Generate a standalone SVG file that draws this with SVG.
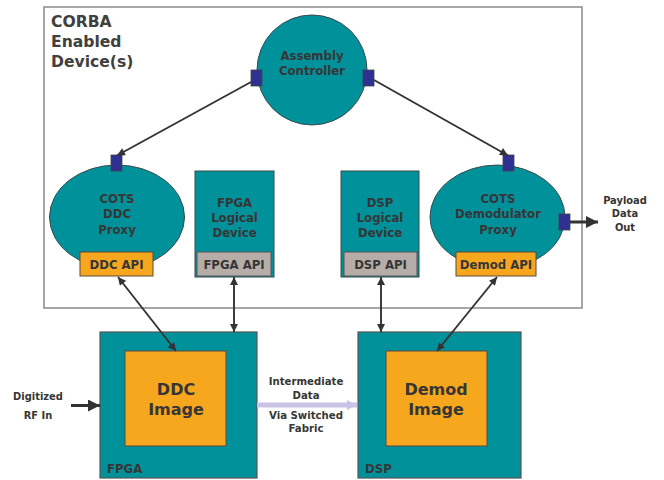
<svg xmlns="http://www.w3.org/2000/svg" width="664" height="480" viewBox="0 0 664 480">
  <defs>
    <style>
      text { font-family: "DejaVu Sans Condensed", "DejaVu Sans", Verdana, sans-serif; font-weight: bold; fill: #363636; text-anchor: middle; }
      .wide { font-family: "DejaVu Sans", Verdana, sans-serif; }
      .teal { fill: #00919b; stroke: #3a4a4c; stroke-width: 1; }
      .orange { fill: #f7a71e; stroke: #5a4a3a; stroke-width: 1; }
      .api-gray { fill: #b6ada8; stroke: #555; stroke-width: 1; }
      .port { fill: #2e3192; stroke: #444; stroke-width: 0.8; }
      .hw { fill: #00919b; stroke: #555; stroke-width: 1.2; }
      .link { stroke: #333; stroke-width: 1.9; fill: none; }
      .t13 { font-size: 13px; }
      .t11 { font-size: 11px; }
    </style>
    <marker id="ah" viewBox="0 0 10 10" refX="10" refY="5" markerWidth="9" markerHeight="8" markerUnits="userSpaceOnUse" orient="auto-start-reverse">
      <path d="M0,0 L10,5 L0,10 Z" fill="#333"/>
    </marker>
    <marker id="ahBig" viewBox="0 0 10 10" refX="10" refY="5" markerWidth="12" markerHeight="12" markerUnits="userSpaceOnUse" orient="auto">
      <path d="M0,0 L10,5 L0,10 Z" fill="#333"/>
    </marker>
    <marker id="ahLav" viewBox="0 0 10 10" refX="10" refY="5" markerWidth="10" markerHeight="11" markerUnits="userSpaceOnUse" orient="auto">
      <path d="M0,0 L10,5 L0,10 Z" fill="#c9c4e6"/>
    </marker>
  </defs>

  <rect width="664" height="480" fill="#ffffff"/>

  <!-- CORBA enabled device boundary -->
  <g id="corba-boundary">
    <rect x="44" y="7" width="538" height="301" fill="none" stroke="#8a8a8a" stroke-width="1.5"/>
    <text class="wide" x="51" y="27" style="font-size:15.6px; text-anchor:start; fill:#404040">CORBA</text>
    <text class="wide" x="51" y="47" style="font-size:15.6px; text-anchor:start; fill:#404040">Enabled</text>
    <text class="wide" x="51" y="67" style="font-size:15.6px; text-anchor:start; fill:#404040">Device(s)</text>
  </g>

  <!-- Hardware blocks -->
  <g id="fpga">
    <rect class="hw" x="100" y="332" width="157" height="146"/>
    <text class="t13" x="107" y="473" style="text-anchor:start">FPGA</text>
  </g>
  <g id="ddc-image">
    <rect class="orange" x="125" y="351" width="101" height="95"/>
    <text class="wide" x="176" y="395" style="font-size:16px">DDC</text>
    <text class="wide" x="176" y="415" style="font-size:16px">Image</text>
  </g>
  <g id="dsp">
    <rect class="hw" x="358" y="332" width="163" height="146"/>
    <text class="t13" x="365" y="473" style="text-anchor:start">DSP</text>
  </g>
  <g id="demod-image">
    <rect class="orange" x="386" y="351" width="101" height="95"/>
    <text class="wide" x="436" y="395" style="font-size:16px">Demod</text>
    <text class="wide" x="436" y="415" style="font-size:16px">Image</text>
  </g>

  <!-- Software components -->
  <g id="assembly-controller">
    <circle class="teal" cx="312" cy="70" r="55"/>
    <text class="t13" x="312" y="60">Assembly</text>
    <text class="t13" x="312" y="75">Controller</text>
    <rect class="port" x="251" y="70" width="11" height="16"/>
    <rect class="port" x="363" y="70" width="11" height="16"/>
  </g>

  <g id="ddc-proxy">
    <ellipse class="teal" cx="117" cy="217" rx="67.5" ry="52"/>
    <text class="t13" x="117" y="202.5">COTS</text>
    <text class="t13" x="117" y="218">DDC</text>
    <text class="t13" x="117" y="233.5">Proxy</text>
    <rect class="port" x="111" y="155" width="11" height="16"/>
    <rect class="orange" x="80" y="252" width="73" height="24"/>
    <text class="t13" x="116.5" y="269">DDC API</text>
  </g>

  <g id="fpga-logical-device">
    <rect class="teal" x="195" y="171" width="79" height="106"/>
    <text class="t13" x="234.5" y="206.5">FPGA</text>
    <text class="t13" x="234.5" y="221.5">Logical</text>
    <text class="t13" x="234.5" y="236.5">Device</text>
    <rect class="api-gray" x="197" y="252" width="74" height="24"/>
    <text class="t13" x="234" y="269">FPGA API</text>
  </g>

  <g id="dsp-logical-device">
    <rect class="teal" x="341" y="171" width="78" height="106"/>
    <text class="t13" x="380" y="206.5">DSP</text>
    <text class="t13" x="380" y="221.5">Logical</text>
    <text class="t13" x="380" y="236.5">Device</text>
    <rect class="api-gray" x="344" y="252" width="73" height="24"/>
    <text class="t13" x="380.5" y="269">DSP API</text>
  </g>

  <g id="demod-proxy">
    <ellipse class="teal" cx="497.5" cy="217" rx="67.5" ry="52"/>
    <text class="t13" x="498" y="202.5">COTS</text>
    <text class="t13" x="498" y="218">Demodulator</text>
    <text class="t13" x="498" y="233.5">Proxy</text>
    <rect class="port" x="503" y="155" width="11" height="16"/>
    <rect class="port" x="559" y="214" width="11" height="16"/>
    <rect class="orange" x="456" y="252" width="80" height="24"/>
    <text class="t13" x="496" y="269">Demod API</text>
  </g>

  <!-- External labels -->
  <g id="payload-out-label">
    <text class="t11" x="625" y="204">Payload</text>
    <text class="t11" x="625" y="217.3">Data</text>
    <text class="t11" x="625" y="230.7">Out</text>
  </g>
  <g id="rf-in-label">
    <text class="t11" x="38" y="400">Digitized</text>
    <text class="t11" x="38" y="419">RF In</text>
  </g>
  <g id="fabric-label">
    <text class="t11" x="306" y="384.8" style="font-size:11.3px">Intermediate</text>
    <text class="t11" x="306" y="399" style="font-size:11.3px">Data</text>
    <text class="t11" x="306" y="419" style="font-size:11.3px">Via Switched</text>
    <text class="t11" x="306" y="431.8" style="font-size:11.3px">Fabric</text>
  </g>

  <!-- Connectors -->
  <g id="connectors">
    <line class="link" x1="251" y1="82" x2="117" y2="155.5" marker-end="url(#ah)"/>
    <line class="link" x1="374" y1="80" x2="508" y2="155.5" marker-end="url(#ah)"/>
    <line class="link" x1="118" y1="277" x2="176" y2="351" marker-start="url(#ah)" marker-end="url(#ah)"/>
    <line class="link" x1="234" y1="277" x2="234" y2="332" marker-start="url(#ah)" marker-end="url(#ah)"/>
    <line class="link" x1="381" y1="277" x2="381" y2="332" marker-start="url(#ah)" marker-end="url(#ah)"/>
    <line class="link" x1="497" y1="277" x2="437" y2="351" marker-start="url(#ah)" marker-end="url(#ah)"/>
    <line x1="570" y1="222" x2="598" y2="222" stroke="#333" stroke-width="3" marker-end="url(#ahBig)"/>
    <line x1="71" y1="405.5" x2="100" y2="405.5" stroke="#333" stroke-width="3" marker-end="url(#ahBig)"/>
    <line x1="257" y1="405" x2="357" y2="405" stroke="#c9c4e6" stroke-width="5" marker-end="url(#ahLav)"/>
  </g>
</svg>
